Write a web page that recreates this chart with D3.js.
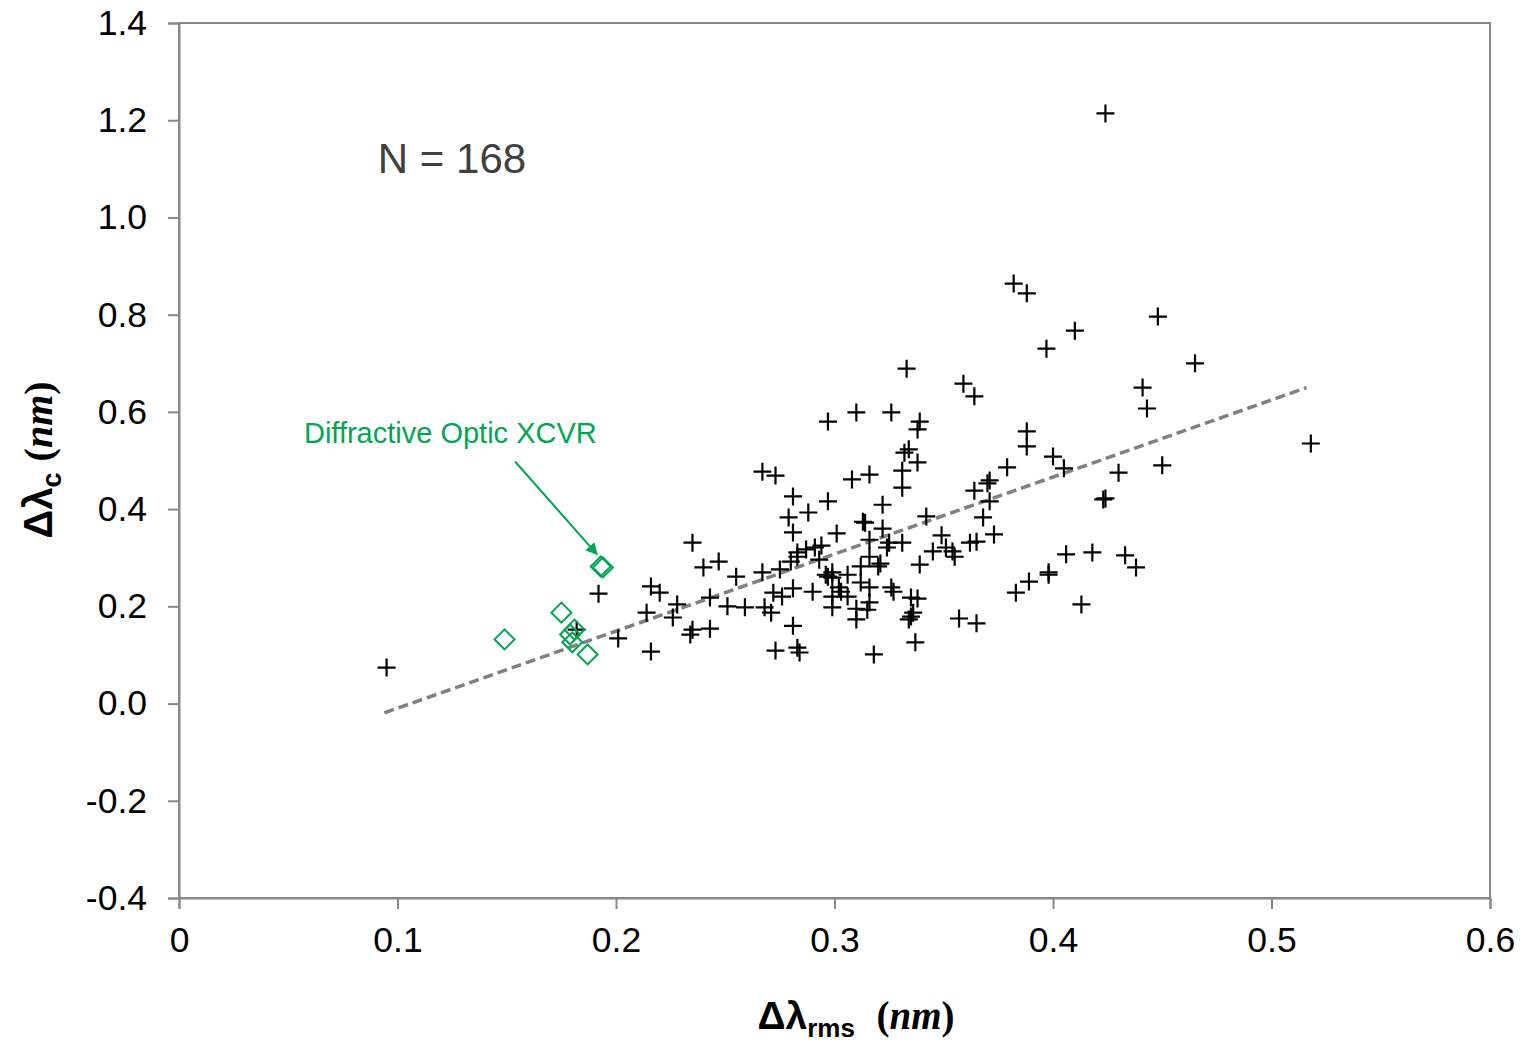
<!DOCTYPE html>
<html>
<head>
<meta charset="utf-8">
<script src="https://cdn.jsdelivr.net/npm/d3@7"></script>
<style>
  body { margin: 0; background: #fff; }
  text { font-family: "Liberation Sans", Arial, sans-serif; }
</style>
</head>
<body>
<div id="chart"></div>
<script>
// Data: black points (delta lambda rms, delta lambda c), in nm
const rmsAll = [
  0.095, 0.192, 0.182, 0.201, 0.216, 0.220, 0.214, 0.228, 0.226, 0.235, 0.234, 0.216, 0.235, 0.240, 0.247, 0.255, 0.243, 0.251, 0.259, 0.243,
  0.267, 0.273, 0.281, 0.297, 0.288, 0.279, 0.281, 0.301, 0.267, 0.275, 0.283, 0.287, 0.291, 0.294, 0.280, 0.283, 0.293, 0.272, 0.276, 0.268,
  0.271, 0.281, 0.290, 0.297, 0.299, 0.296, 0.306, 0.299, 0.303, 0.299, 0.281, 0.273, 0.283, 0.284, 0.308, 0.316,
  0.333, 0.359, 0.364, 0.310, 0.326, 0.297, 0.339, 0.338, 0.334, 0.332, 0.338, 0.331, 0.379, 0.331, 0.371, 0.370, 0.364, 0.371, 0.322, 0.342,
  0.368, 0.373, 0.313, 0.314, 0.322, 0.325, 0.331, 0.324, 0.316, 0.349, 0.345, 0.351, 0.354, 0.355, 0.362, 0.365, 0.339, 0.321, 0.320, 0.316,
  0.312, 0.299, 0.312, 0.316, 0.326, 0.327, 0.302, 0.306, 0.310, 0.310, 0.316, 0.315, 0.335, 0.338, 0.336, 0.334, 0.335, 0.337, 0.318, 0.357, 0.365,
  0.424, 0.382, 0.388, 0.448, 0.410, 0.397, 0.465, 0.441, 0.443, 0.388, 0.388, 0.400, 0.405, 0.430, 0.450, 0.518, 0.423, 0.424, 0.406, 0.418,
  0.433, 0.438, 0.398, 0.398, 0.389, 0.383, 0.413
];
const dcAll = [
  0.074, 0.226, 0.152, 0.134, 0.241, 0.228, 0.187, 0.204, 0.177, 0.152, 0.142, 0.107, 0.331, 0.280, 0.292, 0.261, 0.218, 0.200, 0.198, 0.154,
  0.477, 0.469, 0.426, 0.416, 0.393, 0.383, 0.352, 0.350, 0.270, 0.276, 0.311, 0.317, 0.321, 0.325, 0.292, 0.302, 0.296, 0.228, 0.220, 0.198,
  0.187, 0.237, 0.230, 0.261, 0.259, 0.265, 0.265, 0.220, 0.230, 0.198, 0.160, 0.109, 0.115, 0.105, 0.461, 0.471,
  0.689, 0.658, 0.632, 0.599, 0.599, 0.580, 0.580, 0.564, 0.523, 0.516, 0.496, 0.479, 0.486, 0.444, 0.459, 0.453, 0.438, 0.416, 0.409, 0.385,
  0.383, 0.348, 0.374, 0.372, 0.360, 0.331, 0.331, 0.321, 0.337, 0.346, 0.313, 0.321, 0.313, 0.302, 0.331, 0.333, 0.286, 0.288, 0.282, 0.302,
  0.282, 0.270, 0.249, 0.239, 0.239, 0.230, 0.239, 0.220, 0.195, 0.173, 0.208, 0.193, 0.218, 0.216, 0.187, 0.173, 0.179, 0.126, 0.101, 0.175, 0.165,
  1.214, 0.864, 0.844, 0.796, 0.767, 0.730, 0.700, 0.650, 0.607, 0.560, 0.529, 0.508, 0.484, 0.475, 0.490, 0.535, 0.420, 0.422, 0.307, 0.311,
  0.305, 0.280, 0.270, 0.265, 0.251, 0.228, 0.204
];

// Diffractive optic transceivers (green diamonds)
const rmsXcvr = [0.149, 0.175, 0.181, 0.179, 0.180, 0.187, 0.193, 0.194];
const dcXcvr  = [0.132, 0.187, 0.152, 0.142, 0.126, 0.101, 0.282, 0.280];

// Linear fit line
const fitX = [0.094, 0.516];
const fitSlope = 1.585;
const fitIntercept = -0.168;

const xTicks = [0, 0.1, 0.2, 0.3, 0.4, 0.5, 0.6];
const yTicks = [-0.4, -0.2, 0.0, 0.2, 0.4, 0.6, 0.8, 1.0, 1.2, 1.4];

const width = 1524;
const height = 1043;
const margin = { top: 23, right: 34, bottom: 145, left: 179 };
const innerW = width - margin.left - margin.right;
const innerH = height - margin.top - margin.bottom;

const svg = d3.select("#chart").append("svg")
    .attr("width", width)
    .attr("height", height);

const x = d3.scaleLinear().domain([0, 0.6]).range([0, innerW]);
const y = d3.scaleLinear().domain([-0.4, 1.4]).range([innerH, 0]);

const g = svg.append("g").attr("transform", `translate(${margin.left},${margin.top})`);

const axisColor = "#888";

// frame
g.append("rect")
    .attr("width", innerW).attr("height", innerH)
    .attr("fill", "none").attr("stroke", axisColor).attr("stroke-width", 2);

const fmtY = d => d.toFixed(1).replace("\u2212", "-");
const fmtX = d => d === 0 ? "0" : d.toFixed(1);

const yAxis = g.append("g")
    .call(d3.axisLeft(y).tickValues(yTicks).tickSize(11).tickPadding(21).tickFormat(fmtY));
const xAxis = g.append("g")
    .attr("transform", `translate(0,${innerH})`)
    .call(d3.axisBottom(x).tickValues(xTicks).tickSize(11).tickPadding(18).tickFormat(fmtX));

[xAxis, yAxis].forEach(a => {
  a.select(".domain").attr("stroke", axisColor).attr("stroke-width", 2);
  a.selectAll(".tick line").attr("stroke", axisColor).attr("stroke-width", 2);
  a.selectAll(".tick text").attr("fill", "#000").style("font-size", "35.5px")
    .style("font-family", "'Liberation Sans', Arial, sans-serif");
});

// trend line
g.append("line")
    .attr("x1", x(fitX[0])).attr("y1", y(fitSlope * fitX[0] + fitIntercept))
    .attr("x2", x(fitX[1])).attr("y2", y(fitSlope * fitX[1] + fitIntercept))
    .attr("stroke", "#808080").attr("stroke-width", 3.5)
    .attr("stroke-dasharray", "10,5");

// plus markers
const s = 9;
g.selectAll(".plus")
    .data(rmsAll.map((d, i) => [d, dcAll[i]]))
    .enter().append("path")
    .attr("class", "plus")
    .attr("transform", d => `translate(${x(d[0])},${y(d[1])})`)
    .attr("d", `M${-s},0H${s}M0,${-s}V${s}`)
    .attr("stroke", "#000").attr("stroke-width", 2.2).attr("fill", "none");

// diamond markers
const green = "#00a651";
const r = 10;
g.selectAll(".diamond")
    .data(rmsXcvr.map((d, i) => [d, dcXcvr[i]]))
    .enter().append("path")
    .attr("class", "diamond")
    .attr("transform", d => `translate(${x(d[0])},${y(d[1])})`)
    .attr("d", `M0,${-r}L${r},0L0,${r}L${-r},0Z`)
    .attr("stroke", green).attr("stroke-width", 2).attr("fill", "none");

// annotation
g.append("text")
    .attr("x", x(0.0572)).attr("y", y(0.537))
    .attr("fill", green).style("font-size", "29px")
    .text("Diffractive Optic XCVR");

svg.append("defs").append("marker")
    .attr("id", "arrow").attr("viewBox", "0 0 10 10")
    .attr("refX", 9).attr("refY", 5)
    .attr("markerWidth", 7).attr("markerHeight", 6)
    .attr("markerUnits", "strokeWidth")
    .attr("orient", "auto")
    .append("path").attr("d", "M0,0L10,5L0,10Z").attr("fill", green);

g.append("line")
    .attr("x1", x(0.1538)).attr("y1", y(0.498))
    .attr("x2", x(0.1913)).attr("y2", y(0.307))
    .attr("stroke", green).attr("stroke-width", 2)
    .attr("marker-end", "url(#arrow)");

g.append("text")
    .attr("x", x(0.091)).attr("y", y(1.091))
    .attr("fill", "#404040").style("font-size", "42px")
    .text("N = 168");

// axis titles
const xt = svg.append("text")
    .attr("x", 856).attr("y", 1029)
    .attr("text-anchor", "middle")
    .style("font-size", "39px").style("font-weight", "bold");
xt.append("tspan").text("\u0394\u03bb");
xt.append("tspan").attr("dy", 8).style("font-size", "26px").text("rms");
xt.append("tspan").attr("dy", -8).text("\u00a0\u00a0");
xt.append("tspan").style("font-family", "'Liberation Serif', serif").text("(");
xt.append("tspan").style("font-family", "'Liberation Serif', serif").style("font-style", "italic").text("nm");
xt.append("tspan").style("font-family", "'Liberation Serif', serif").text(")");

const yt = svg.append("text")
    .attr("transform", "translate(52,460) rotate(-90)")
    .attr("text-anchor", "middle")
    .style("font-size", "40px").style("font-weight", "bold");
yt.append("tspan").text("\u0394\u03bb");
yt.append("tspan").attr("dy", 9).style("font-size", "27px").text("c");
yt.append("tspan").attr("dy", -9).text("\u00a0");
yt.append("tspan").style("font-family", "'Liberation Serif', serif").text("(");
yt.append("tspan").style("font-family", "'Liberation Serif', serif").style("font-style", "italic").text("nm");
yt.append("tspan").style("font-family", "'Liberation Serif', serif").text(")");
</script>
</body>
</html>
